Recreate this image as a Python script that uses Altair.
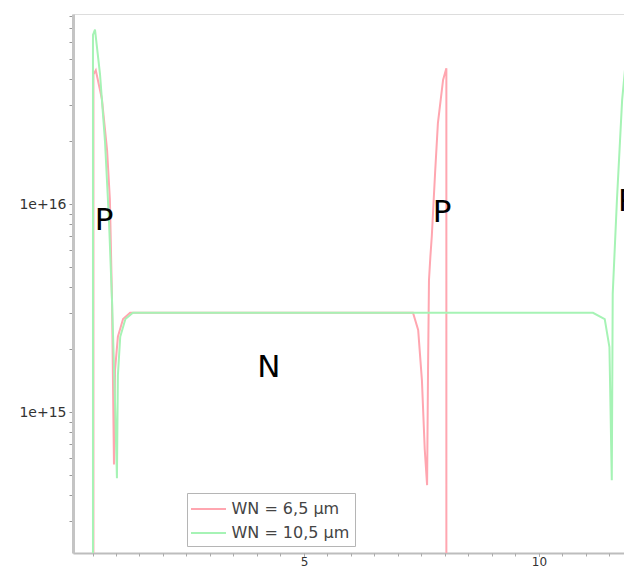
import altair as alt
import pandas as pd

# ---- data (x in µm, y in cm^-3) ----
series_names = ["WN = 6,5 µm", "WN = 10,5 µm"]
series_colors = ["#ffa6b0", "#a6f3b5"]

red_x = [0.52, 0.52, 0.57, 0.70, 0.81, 0.87, 0.915, 0.957, 0.98, 1.04, 1.15, 1.30,
         7.32, 7.43, 7.51, 7.57, 7.62, 7.64, 7.66, 7.69, 7.72, 7.79, 7.85, 7.96, 8.03, 8.03]
red_y = [1e13, 4.2e16, 4.4e16, 3.2e16, 1.82e16, 1.05e16, 3.45e15, 5.6e14, 1.6e15, 2.3e15, 2.8e15, 3.0e15,
         3.0e15, 2.48e15, 1.42e15, 6.6e14, 4.45e14, 1.6e15, 4.3e15, 5.6e15, 7.0e15, 1.41e16, 2.45e16, 3.95e16, 4.5e16, 1e13]

green_x = [0.51, 0.51, 0.553, 0.66, 0.766, 0.85, 0.915, 0.98, 1.02, 1.04, 1.09, 1.20, 1.36,
           11.15, 11.40, 11.50, 11.55, 11.57, 11.66, 11.77, 11.87, 11.94, 12.0, 12.0]
green_y = [1e13, 6.5e16, 6.9e16, 4.2e16, 2.0e16, 8.4e15, 3.45e15, 1.1e15, 4.8e14, 1.5e15, 2.3e15, 2.8e15, 3.0e15,
           3.0e15, 2.8e15, 2.05e15, 4.7e14, 3.7e15, 1.05e16, 3.16e16, 5.5e16, 6.9e16, 7.0e16, 1e13]

label_text = ["P", "P", "P", "N"]
label_x = [0.745, 7.94, 11.88, 4.255]
label_y = [8.3e15, 9.1e15, 1.02e16, 1.63e15]

x_major = [5, 10]
x_minor = [0.5 * k for k in range(1, 24)]
y_ticks = [3e14, 4e14, 5e14, 6e14, 7e14, 8e14, 9e14,
           1e15, 2e15, 3e15, 4e15, 5e15, 6e15, 7e15, 8e15, 9e15,
           1e16, 2e16, 3e16, 4e16, 5e16, 6e16, 7e16, 8e16]

# ---- tables ----
rows = []
for name, xs, ys in [(series_names[0], red_x, red_y), (series_names[1], green_x, green_y)]:
    for i, (xv, yv) in enumerate(zip(xs, ys)):
        rows.append({"series": name, "x": xv, "y": yv, "i": i})
df = pd.DataFrame(rows)
labels_df = pd.DataFrame({"t": label_text, "x": label_x, "y": label_y})

xscale = alt.Scale(domain=[0.085, 11.81], nice=False, zero=False)
yscale = alt.Scale(type="log", domain=[2.1e14, 8.2e16], nice=False)

yaxis = alt.Axis(values=y_ticks, title=None, grid=False,
                 labelExpr="datum.value == 1e15 ? '1e+15' : datum.value == 1e16 ? '1e+16' : ''",
                 labelOverlap=False,
                 tickSize=4, tickColor="#999999", domainColor="#c4c4c4", domainWidth=3,
                 labelFont="DejaVu Sans", labelFontSize=14, labelColor="#333333",
                 labelPadding=3)

lines = alt.Chart(df).mark_line(strokeWidth=2, clip=True).encode(
    x=alt.X("x:Q", scale=xscale,
            axis=alt.Axis(orient="bottom", values=x_major, format="d", title=None, grid=False,
                          labelOverlap=False, labelFlush=False,
                          tickSize=3, tickColor="#888888", domainColor="#bdbdbd", domainWidth=2,
                          labelFont="DejaVu Sans", labelFontSize=12, labelColor="#333333",
                          labelPadding=0)),
    y=alt.Y("y:Q", scale=yscale, axis=yaxis),
    color=alt.Color("series:N",
                    scale=alt.Scale(domain=series_names, range=series_colors),
                    legend=alt.Legend(title=None, orient="none", legendX=114, legendY=479,
                                      symbolType="M-1.75,0H1.75", symbolSize=400, symbolStrokeWidth=2,
                                      symbolOffset=5.5,
                                      labelFont="DejaVu Sans", labelFontSize=16, labelColor="#444444",
                                      fillColor="white", strokeColor="#b5b5b5",
                                      padding=5, rowPadding=5, labelOffset=12)),
    order=alt.Order("i:Q"),
)

texts = alt.Chart(labels_df).mark_text(
    fontSize=31, font="DejaVu Sans", color="black", align="center", baseline="middle"
).encode(
    x=alt.X("x:Q", scale=xscale,
            axis=alt.Axis(orient="bottom", values=x_minor, labels=False, title=None, grid=False,
                          domain=False, tickSize=3, tickColor="#aaaaaa")),
    y=alt.Y("y:Q", scale=yscale, axis=yaxis),
    text="t:N",
)

chart = alt.layer(lines, texts).resolve_axis(x="independent").properties(
    width=551, height=539,
    autosize=alt.AutoSizeParams(type="none"),
    padding={"left": 65, "top": 6, "right": 0, "bottom": 15},
).configure_view(stroke="#bdbdbd", strokeWidth=2).configure(background="white")

chart.save("out.html", embed_options={"renderer": "svg", "actions": False})
